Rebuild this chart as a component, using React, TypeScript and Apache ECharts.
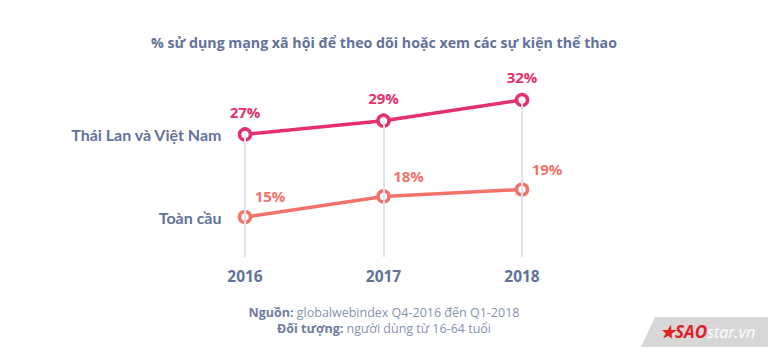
import React, { useEffect, useRef } from "react";
import * as echarts from "echarts";

const years = ["2016", "2017", "2018"];
const thaiVn = [27, 29, 32];
const global = [15, 18, 19];
const seriesNames = ["Thái Lan và Việt Nam", "Toàn cầu"];
const titleText = "% sử dụng mạng xã hội để theo dõi hoặc xem các sự kiện thể thao";
const sourceLabel = "Nguồn:";
const sourceText = " globalwebindex Q4-2016 đến Q1-2018";
const audienceLabel = "Đối tượng:";
const audienceText = " người dùng từ 16-64 tuổi";

const FONT = "'Open Sans', Lato, sans-serif";
const PINK = "#e5306e";
const CORAL = "#f2726a";
const GREY = "#62729a";
const Y_MIN = 9.2;
const Y_MAX = 32;

export default function App() {
  const ref = useRef<HTMLDivElement>(null);
  useEffect(() => {
    const chart = echarts.init(ref.current!, null, { renderer: "svg" });
    const lineSeries = (name: string, data: number[], color: string, labelOffset: number[]) => ({
      type: "line",
      name,
      data,
      z: 3,
      symbol: "circle",
      symbolSize: 11,
      showAllSymbol: true,
      clip: false,
      lineStyle: { color, width: 3.5 },
      itemStyle: { color: "#fff", borderColor: color, borderWidth: 3.5 },
      label: {
        show: true,
        position: "top",
        offset: labelOffset,
        distance: 8,
        formatter: "{c}%",
        color,
        fontFamily: FONT,
        fontWeight: "bold",
        fontSize: 15,
      },
    });
    const nameSeries = (name: string, data: number[]) => ({
      type: "line",
      name,
      data: [data[0]],
      symbol: "circle",
      symbolSize: 1,
      showSymbol: true,
      lineStyle: { opacity: 0 },
      itemStyle: { opacity: 0 },
      z: 1,
      silent: true,
      label: {
        show: true,
        position: "left",
        distance: 23,
        formatter: name,
        color: GREY,
        fontFamily: "Lato, sans-serif",
        fontWeight: "bold",
        fontSize: 16,
        opacity: 1,
      },
    });
    const footLine = (label: string, text: string, top: number) => ({
      type: "text",
      left: "center",
      top,
      style: {
        text: `{b|${label}}{n|${text}}`,
        rich: {
          b: { fontWeight: "bold", fontFamily: FONT, fontSize: 12.5, fill: "#6f7e9c" },
          n: { fontFamily: FONT, fontSize: 12.5, fill: "#8693ae" },
        },
      },
    });
    chart.setOption({
      animation: false,
      backgroundColor: "#fff",
      grid: { left: 245, right: 246, top: 100, bottom: 99 },
      xAxis: {
        type: "category",
        data: years,
        boundaryGap: false,
        axisLine: { show: false },
        axisTick: { show: false },
        splitLine: { show: false },
        axisLabel: {
          color: GREY,
          fontFamily: FONT,
          fontWeight: "bold",
          fontSize: 15.5,
          margin: 11,
        },
      },
      yAxis: {
        type: "value",
        min: Y_MIN,
        max: Y_MAX,
        show: false,
        splitLine: { show: false },
      },
      graphic: [
        {
          type: "text",
          left: "center",
          top: 35,
          style: {
            text: titleText,
            fill: GREY,
            font: `bold 14.2px ${FONT}`,
          },
        },
        footLine(sourceLabel, sourceText, 306),
        footLine(audienceLabel, audienceText, 322),
        {
          type: "polygon",
          shape: { points: [[655, 317], [768, 317], [768, 347], [641, 347]] },
          style: { fill: "#d7d7d7" },
        },
        {
          type: "text",
          x: 660,
          y: 323,
          style: {
            text: "{s|★SAO}{w|star.vn}",
            rich: {
              s: { fill: "#e02127", fontWeight: "bold", fontStyle: "italic", fontSize: 17, fontFamily: FONT },
              w: { fill: "#fff", fontStyle: "italic", fontSize: 16, fontFamily: FONT },
            },
          },
        },
      ],
      series: [
        {
          type: "line",
          data: [],
          z: 1,
          silent: true,
          markLine: {
            silent: true,
            symbol: "none",
            label: { show: false },
            lineStyle: { color: "#dbe3f3", width: 2, type: "solid" },
            data: thaiVn.map((v, i) => [
              { coord: [i, v] },
              { coord: [i, Y_MIN] },
            ]),
          },
        },
        lineSeries(seriesNames[0], thaiVn, PINK, [0, 0]),
        lineSeries(seriesNames[1], global, CORAL, [25, 2]),
        nameSeries(seriesNames[0], thaiVn),
        nameSeries(seriesNames[1], global),
      ],
    });
    return () => chart.dispose();
  }, []);
  return (
    <div
      ref={ref}
      style={{ position: "fixed", left: 0, top: 0, width: 768, height: 356 }}
    />
  );
}
